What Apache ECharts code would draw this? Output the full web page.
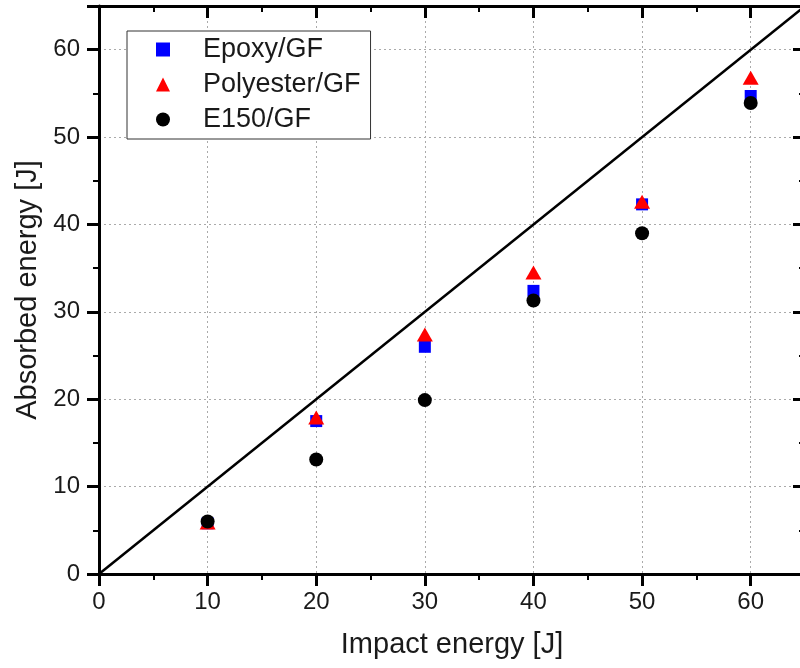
<!DOCTYPE html>
<html>
<head>
<meta charset="utf-8">
<script src="https://cdn.jsdelivr.net/npm/echarts@6/dist/echarts.min.js"></script>
<style>
  html, body { margin: 0; padding: 0; background: #fff; }
  #chart { width: 800px; height: 668px; }
</style>
</head>
<body>
<div id="chart"></div>
<script>
// impact energy levels [J]
const impact = [10, 20, 30, 40, 50, 60];
// absorbed energy [J]
const epoxyGF = [5.8, 17.5, 26.0, 32.4, 42.3, 54.7];
const polyesterGF = [5.9, 17.9, 27.4, 34.5, 42.6, 56.8];
const e150GF = [6.0, 13.1, 19.9, 31.3, 39.0, 53.9];
// reference line: absorbed = impact
const refLine = [[0, 0], [65, 65]];

const pair = (ys) => impact.map((x, i) => [x, ys[i]]);

const font = 'Liberation Sans, Arial, sans-serif';
const txt = '#1a1a1a';

const myChart = echarts.init(document.getElementById('chart'));

const baseAxis = {
  type: 'value',
  min: 0,
  max: 65,
  interval: 10,
  axisLine: { show: true, onZero: false, lineStyle: { color: '#000', width: 3 } },
  axisTick: { show: true, inside: false, length: 12, lineStyle: { color: '#000', width: 3 } },
  minorTick: { show: true, splitNumber: 2, length: 6, lineStyle: { color: '#000', width: 2 } },
  splitLine: { show: false }
};

const option = {
  animation: false,
  grid: { left: 99, top: 6, width: 706, height: 568, containLabel: false, outerBoundsMode: 'none' },
  legend: {
    orient: 'vertical',
    left: 127,
    top: 31,
    padding: [5, 10, 6, 29],
    itemGap: 8,
    itemWidth: 14,
    itemHeight: 14,
    backgroundColor: '#fff',
    borderColor: '#333',
    borderWidth: 1,
    textStyle: { fontFamily: font, fontSize: 27, color: txt, padding: [0, 0, 0, 28] },
    data: ['Epoxy/GF', 'Polyester/GF', 'E150/GF']
  },
  xAxis: [
    Object.assign({}, baseAxis, {
      position: 'bottom',
      name: 'Impact energy [J]',
      nameLocation: 'middle',
      nameGap: 56,
      nameTextStyle: { fontFamily: font, fontSize: 29, color: txt },
      axisLabel: { margin: 16, fontFamily: font, fontSize: 24, color: txt, showMaxLabel: false },
      splitLine: { show: true, lineStyle: { color: '#aaa', type: [2, 3], width: 1 } }
    }),
    Object.assign({}, baseAxis, {
      position: 'top',
      axisTick: { show: true, inside: true, length: 12, lineStyle: { color: '#000', width: 3 } },
      minorTick: { show: true, splitNumber: 2, length: 6, lineStyle: { color: '#000', width: 2 } },
      axisLabel: { show: false }
    })
  ],
  yAxis: [
    Object.assign({}, baseAxis, {
      position: 'left',
      name: 'Absorbed energy [J]',
      nameLocation: 'middle',
      nameGap: 56,
      nameTextStyle: { fontFamily: font, fontSize: 29, color: txt },
      axisLabel: { margin: 19, fontFamily: font, fontSize: 24, color: txt, showMaxLabel: false },
      splitLine: { show: true, lineStyle: { color: '#aaa', type: [2, 3], width: 1 } }
    }),
    Object.assign({}, baseAxis, {
      position: 'right',
      axisTick: { show: true, inside: true, length: 12, lineStyle: { color: '#000', width: 3 } },
      minorTick: { show: true, splitNumber: 2, length: 6, lineStyle: { color: '#000', width: 2 } },
      axisLabel: { show: false }
    })
  ],
  series: [
    {
      name: 'reference',
      type: 'line',
      data: refLine,
      symbol: 'none',
      lineStyle: { color: '#000', width: 2.5 },
      z: 1,
      silent: true
    },
    {
      name: 'Epoxy/GF',
      type: 'scatter',
      data: pair(epoxyGF),
      symbol: 'rect',
      symbolSize: 12,
      itemStyle: { color: '#0000ff', opacity: 1 },
      z: 2
    },
    {
      name: 'Polyester/GF',
      type: 'scatter',
      data: pair(polyesterGF),
      symbol: 'triangle',
      symbolSize: [16, 14],
      itemStyle: { color: '#ff0000', opacity: 1 },
      z: 3
    },
    {
      name: 'E150/GF',
      type: 'scatter',
      data: pair(e150GF),
      symbol: 'circle',
      symbolSize: 14,
      itemStyle: { color: '#000', opacity: 1 },
      z: 4
    }
  ]
};

myChart.setOption(option);
</script>
</body>
</html>
